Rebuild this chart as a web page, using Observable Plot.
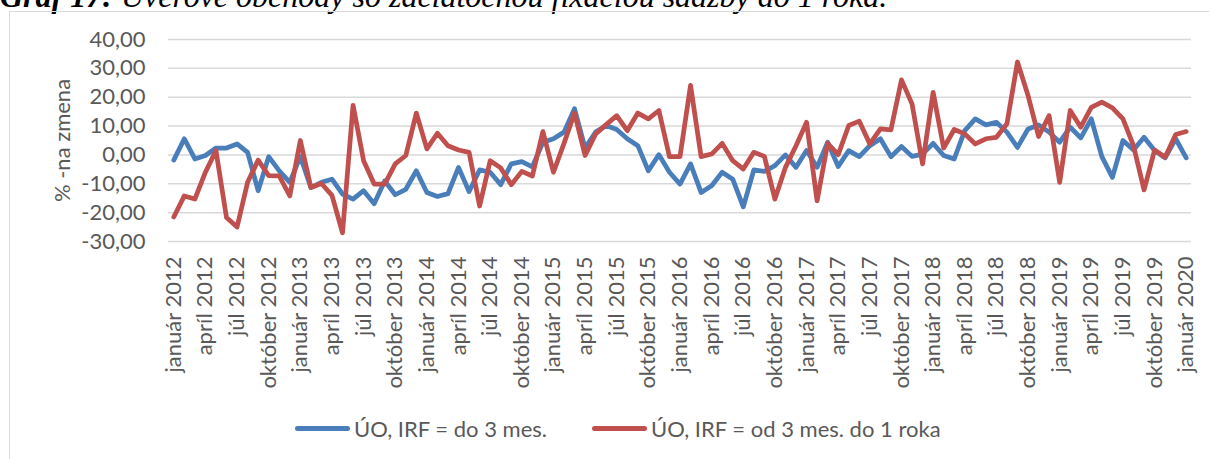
<!DOCTYPE html>
<html>
<head>
<meta charset="utf-8">
<script src="https://cdn.jsdelivr.net/npm/d3@7"></script>
<script src="https://cdn.jsdelivr.net/npm/@observablehq/plot@0.6"></script>
<style>
  html, body { margin: 0; padding: 0; background: #fff; }
  #wrap { position: relative; width: 1209px; height: 459px; overflow: hidden; font-family: Lato, "Noto Sans", sans-serif; color: #595959; }
  #title { position: absolute; left: 0; top: -20px; font-family: "Liberation Serif", "DejaVu Serif", serif; font-style: italic; font-size: 32px; line-height: 32px; color: #000; white-space: nowrap; }
  #frame { position: absolute; left: 9px; top: 11px; width: 1230px; height: 480px; border: 1.5px solid #d9d9d9; box-sizing: border-box; }
  #chart { position: absolute; left: 0; top: 0; }
  .leg { position: absolute; top: 414px; height: 28px; display: flex; align-items: center; font-size: 22px; color: #595959; white-space: nowrap; }
  .sw { display: inline-block; width: 55px; height: 5px; border-radius: 3px; margin-right: 4px; }
</style>
</head>
<body>
<div id="wrap">
  <div id="title"><b>Graf 17:</b> Úverové obchody so začiatočnou fixáciou sadzby do 1 roka.</div>
  <div id="frame"></div>
  <div id="chart"></div>
  <div class="leg" style="left:295px"><span class="sw" style="background:#4a7ebb"></span>ÚO, IRF = do 3 mes.</div>
  <div class="leg" style="left:592px"><span class="sw" style="background:#c0504d"></span>ÚO, IRF = od 3 mes. do 1 roka</div>
</div>
<script>
// Monthly series, január 2012 .. január 2020 (97 months)
const seriesNames = ["ÚO, IRF = do 3 mes.", "ÚO, IRF = od 3 mes. do 1 roka"];
const irfDo3m = [
  -1.8, 5.6, -1.4, -0.2, 2.4, 2.4, 3.8, 0.9, -12.4, -0.6, -5.5, -9.5,
  -0.5, -11.3, -9.5, -8.4, -13.6, -15.3, -12.4, -16.9, -9.0, -13.8, -11.9, -5.5,
  -13.0, -14.4, -13.4, -4.3, -12.7, -5.2, -6.0, -10.3, -3.1, -2.3, -4.1, 4.4,
  5.6, 7.9, 16.0, 2.4, 7.9, 10.2, 8.8, 5.6, 3.2, -5.5, 0.1, -6.0,
  -10.1, -3.1, -13.0, -10.7, -6.0, -8.4, -18.0, -5.2, -5.7, -3.7, 0.0, -4.3,
  1.5, -4.3, 4.4, -4.0, 1.5, -0.6, 3.2, 5.6, -0.6, 2.9, -0.5, 0.3,
  4.0, -0.2, -1.4, 8.4, 12.5, 10.4, 11.3, 7.9, 2.6, 9.0, 10.4, 7.9,
  4.4, 9.6, 5.9, 12.5, -0.6, -7.8, 5.0, 1.7, 6.1, 1.5, -1.0, 5.6,
  -1.0
];
const irf3mDo1r = [
  -21.5, -14.2, -15.3, -6.0, 1.5, -21.7, -25.0, -9.5, -1.8, -7.2, -7.3, -14.2,
  5.0, -11.3, -9.9, -14.0, -27.0, 17.2, -2.0, -10.1, -10.1, -3.1, -0.2, 14.5,
  2.1, 7.5, 3.2, 1.7, 0.9, -17.7, -2.0, -4.5, -10.3, -5.7, -7.3, 8.1,
  -6.0, 4.0, 14.5, -0.2, 7.3, 10.5, 13.6, 8.4, 14.5, 12.5, 15.4, -0.6,
  -0.6, 24.1, -0.6, 0.3, 4.0, -2.0, -4.9, 0.9, -0.5, -15.3, -4.3, 3.2,
  11.3, -15.9, 4.0, 0.1, 10.2, 11.7, 3.8, 9.0, 8.7, 26.0, 17.7, -3.1,
  21.7, 2.4, 8.8, 7.3, 3.8, 5.6, 6.1, 10.8, 32.2, 20.6, 6.4, 13.6,
  -9.5, 15.4, 9.6, 16.5, 18.3, 16.3, 12.5, 3.2, -12.1, 1.7, -0.8, 7.1,
  8.1
];
const tickIndex = d3.range(0, 97, 3);
const tickLabels = [];
for (let y = 2012; y <= 2020; y++) {
  for (const m of ["január", "apríl", "júl", "október"]) tickLabels.push(m + " " + y);
}
tickLabels.length = tickIndex.length;
const yTicks = [-30, -20, -10, 0, 10, 20, 30, 40];
const yLabel = "% -na zmena";

const skLocale = d3.formatLocale({decimal: ",", thousands: " ", grouping: [3], currency: ["", " €"], minus: "-"});
const fmt = skLocale.format(".2f");

const rows = [];
irfDo3m.forEach((v, i) => rows.push({i, v, s: seriesNames[0]}));
irf3mDo1r.forEach((v, i) => rows.push({i, v, s: seriesNames[1]}));

const chart = Plot.plot({
  width: 1209,
  height: 400,
  marginLeft: 168,
  marginRight: 18,
  marginTop: 39,
  marginBottom: 159,
  style: {fontFamily: "Lato, 'Noto Sans', sans-serif", color: "#595959", background: "transparent"},
  x: {type: "linear", domain: [-0.5, 96.5]},
  y: {domain: [-30, 40]},
  color: {domain: seriesNames, range: ["#4a7ebb", "#c0504d"]},
  marks: [
    Plot.gridY({ticks: yTicks, stroke: "#d9d9d9", strokeOpacity: 1, strokeWidth: 1.5}),
    Plot.axisY({ticks: yTicks, tickFormat: fmt, tickSize: 0, tickPadding: 23, fontSize: 22, label: null}),
    Plot.axisX({ticks: tickIndex, tickFormat: i => tickLabels[tickIndex.indexOf(i)], tickRotate: -90, tickSize: 0, tickPadding: 15, fontSize: 22, label: null}),
    Plot.text([yLabel], {frameAnchor: "left", textAnchor: "middle", dx: -106, rotate: -90, fontSize: 22, fill: "#595959"}),
    Plot.line(rows, {x: "i", y: "v", z: "s", stroke: "s", strokeWidth: 4.75, strokeLinejoin: "round", strokeLinecap: "round"})
  ]
});
document.getElementById("chart").appendChild(chart);
</script>
</body>
</html>
